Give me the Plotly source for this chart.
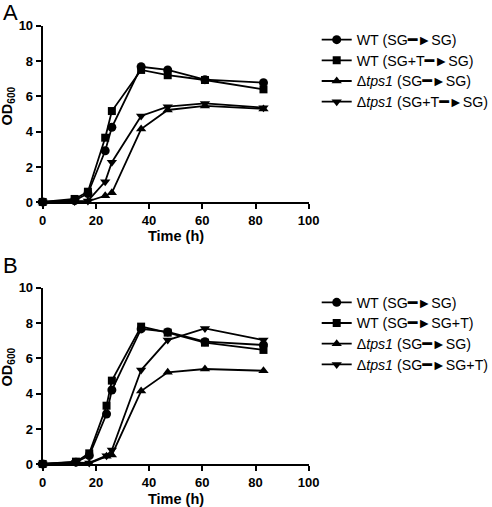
import plotly.graph_objects as go

# Panel A data
time_a = [0, 12, 17, 23.5, 26, 37, 47, 61, 83]
wt_sg_sg_a = [0.02, 0.1, 0.5, 2.92, 4.25, 7.68, 7.5, 6.95, 6.78]
wt_sgt_sg_a = [0.02, 0.19, 0.6, 3.66, 5.17, 7.5, 7.2, 6.93, 6.4]
tps1_sg_sg_a = [0.02, 0.05, 0.05, 0.37, 0.54, 4.15, 5.23, 5.46, 5.29]
tps1_sgt_sg_a = [0.02, 0.05, 0.08, 1.17, 2.27, 4.89, 5.42, 5.6, 5.36]

# Panel B data
time_b = [0, 12.5, 17.5, 24, 26, 37, 47, 61, 83]
wt_sg_sg_b = [0.02, 0.12, 0.5, 2.85, 4.21, 7.67, 7.5, 6.95, 6.76]
wt_sg_sgt_b = [0.02, 0.15, 0.62, 3.32, 4.74, 7.8, 7.46, 6.89, 6.48]
tps1_sg_sg_b = [0.02, 0.05, 0.05, 0.45, 0.53, 4.15, 5.21, 5.4, 5.3]
tps1_sg_sgt_b = [0.02, 0.1, 0.08, 0.49, 0.81, 5.34, 7.04, 7.7, 7.04]

ARROW = '<span style="font-family:DejaVu Sans;font-weight:bold;font-size:16px">━</span>►'
names_a = [
    f"WT (SG{ARROW}SG)",
    f"WT (SG+T{ARROW}SG)",
    f"Δ<i>tps1</i> (SG{ARROW}SG)",
    f"Δ<i>tps1</i> (SG+T{ARROW}SG)",
]
names_b = [
    f"WT (SG{ARROW}SG)",
    f"WT (SG{ARROW}SG+T)",
    f"Δ<i>tps1</i> (SG{ARROW}SG)",
    f"Δ<i>tps1</i> (SG{ARROW}SG+T)",
]
symbols = ["circle", "square", "triangle-up", "triangle-down"]
sizes = [9, 8, 9, 9]

xticks = [0, 20, 40, 60, 80, 100]
yticks = [0, 2, 4, 6, 8, 10]

FONT = "Liberation Sans, Arial, DejaVu Sans, sans-serif"

W, H = 492, 507


def fx(px):
    return px / W


def fy(py):
    return 1 - py / H


def legend_label(text):
    return f'<span style="font-size:14.2px">{text}</span>'


fig = go.Figure()

series_a = [wt_sg_sg_a, wt_sgt_sg_a, tps1_sg_sg_a, tps1_sgt_sg_a]
series_b = [wt_sg_sg_b, wt_sg_sgt_b, tps1_sg_sg_b, tps1_sg_sgt_b]

for ys, nm, sym, sz in zip(series_a, names_a, symbols, sizes):
    fig.add_trace(go.Scatter(
        x=time_a, y=ys, name=legend_label(nm), mode="lines+markers",
        line=dict(color="black", width=1.8),
        marker=dict(symbol=sym, size=sz, color="black"),
        cliponaxis=False, xaxis="x", yaxis="y", legend="legend",
    ))
for ys, nm, sym, sz in zip(series_b, names_b, symbols, sizes):
    fig.add_trace(go.Scatter(
        x=time_b, y=ys, name=legend_label(nm), mode="lines+markers",
        line=dict(color="black", width=1.8),
        marker=dict(symbol=sym, size=sz, color="black"),
        cliponaxis=False, xaxis="x2", yaxis="y2", legend="legend2",
    ))

tickfont = dict(family=FONT, size=13, color="black", weight="bold")
common_x = dict(range=[0, 100], tickvals=xticks, showline=True, linewidth=2,
                linecolor="black", ticks="outside", ticklen=5, tickwidth=2,
                tickcolor="black", showgrid=False, zeroline=False, tickfont=tickfont,
                automargin=False)
common_y = dict(range=[0, 10], tickvals=yticks, showline=True, linewidth=2,
                linecolor="black", ticks="outside", ticklen=5, tickwidth=2,
                tickcolor="black", showgrid=False, zeroline=False, tickfont=tickfont,
                automargin=False)

legend_common = dict(xanchor="left", yanchor="top", bgcolor="rgba(0,0,0,0)",
                     font=dict(family=FONT, size=13.6, color="black"),
                     tracegroupgap=0, itemwidth=30)

fig.update_layout(
    width=W, height=H,
    margin=dict(l=0, r=0, t=0, b=0, autoexpand=False),
    paper_bgcolor="white", plot_bgcolor="white",
    xaxis=dict(domain=[fx(42.7), fx(308.7)], anchor="y", **common_x),
    yaxis=dict(domain=[fy(202.3), fy(25.8)], anchor="x", **common_y),
    xaxis2=dict(domain=[fx(42.7), fx(308.7)], anchor="y2", **common_x),
    yaxis2=dict(domain=[fy(464.3), fy(287.8)], anchor="x2", **common_y),
    legend=dict(x=fx(316.7), y=fy(24.3), **legend_common),
    legend2=dict(x=fx(316.7), y=fy(287), **legend_common),
    showlegend=True,
)

ann_font = dict(family=FONT, size=14.5, color="black", weight="bold")
annotations = [
    dict(text="A", x=fx(10), y=fy(12.5), font=dict(family=FONT, size=22, color="black")),
    dict(text="B", x=fx(10), y=fy(265.5), font=dict(family=FONT, size=22, color="black")),
    dict(text="<b>OD<sub>600</sub></b>", x=fx(7.5), y=fy(106), textangle=-90, font=ann_font),
    dict(text="<b>OD<sub>600</sub></b>", x=fx(7.5), y=fy(367), textangle=-90, font=ann_font),
    dict(text="<b>Time (h)</b>", x=fx(175.5), y=fy(235.7), font=ann_font),
    dict(text="<b>Time (h)</b>", x=fx(175.5), y=fy(498.5), font=ann_font),
]
for a in annotations:
    a.update(xref="paper", yref="paper", showarrow=False, borderpad=0,
             xanchor="center", yanchor="middle")
fig.update_layout(annotations=annotations)

fig.write_html("out.html", config={"displayModeBar": False},
               post_script="document.body.style.margin='0';")
